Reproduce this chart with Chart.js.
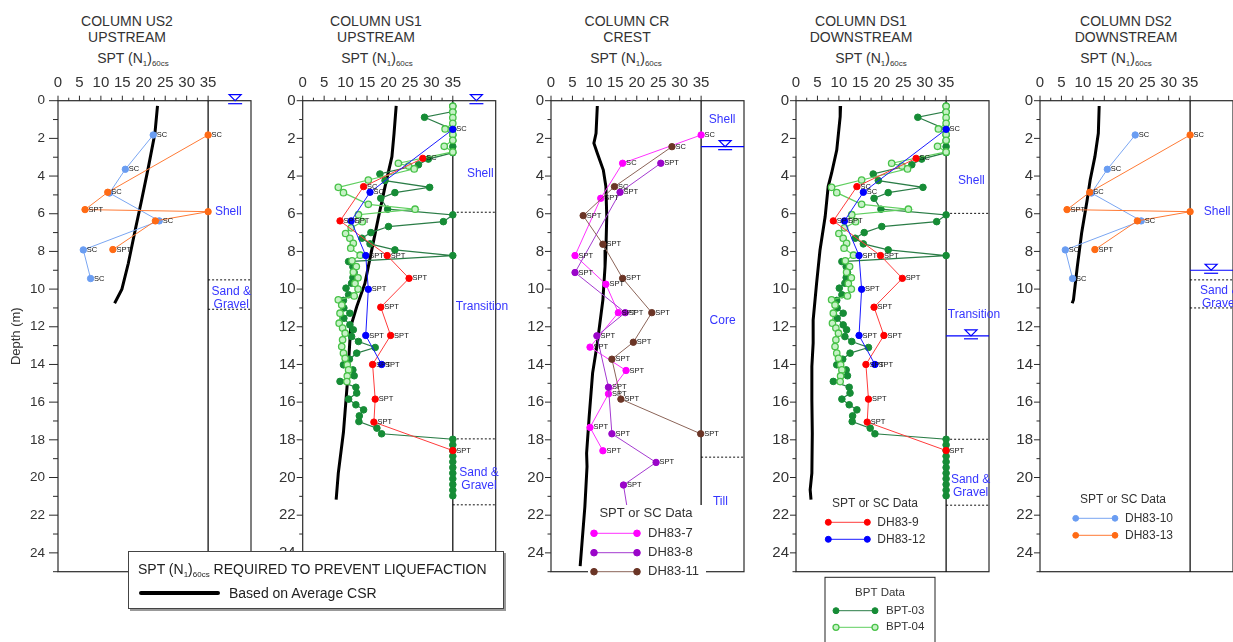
<!DOCTYPE html>
<html>
<head>
<meta charset="utf-8">
<script src="https://cdn.jsdelivr.net/npm/chart.js@4.4.1/dist/chart.umd.min.js"></script>
<style>
  body { margin:0; width:1233px; height:642px; overflow:hidden; background:#fff; position:relative;
         font-family:"Liberation Sans", Arial, sans-serif; color:#333; }
  canvas { position:absolute; top:0; }
  .ttl { position:absolute; top:12.5px; width:200px; text-align:center; font-size:14px; line-height:16px; }
  .spt { position:absolute; top:50px; width:200px; text-align:center; font-size:14px; line-height:16px; }
  sub { font-size:8px; vertical-align:-3px; line-height:0; }
  #csrKey { position:absolute; left:128px; top:551px; width:374px; height:56px; background:#fff;
            border:1px solid #444; box-shadow:2px 2px 0 #999; font-size:14px; color:#222; z-index:5; }
  #csrKey .t { position:absolute; left:9px; top:9px; white-space:nowrap; line-height:16px; }
  #csrKey .ln { position:absolute; left:10px; top:39px; width:81px; height:4px; background:#000; border-radius:2px; }
  #csrKey .r { position:absolute; left:100px; top:33px; white-space:nowrap; line-height:16px; }
</style>
</head>
<body>
<div class="ttl" style="left:27px">COLUMN US2<br>UPSTREAM</div>
<div class="spt" style="left:33px">SPT (N<sub>1</sub>)<sub>60cs</sub></div>
<div class="ttl" style="left:276px">COLUMN US1<br>UPSTREAM</div>
<div class="spt" style="left:277px">SPT (N<sub>1</sub>)<sub>60cs</sub></div>
<div class="ttl" style="left:527px">COLUMN CR<br>CREST</div>
<div class="spt" style="left:526px">SPT (N<sub>1</sub>)<sub>60cs</sub></div>
<div class="ttl" style="left:761px">COLUMN DS1<br>DOWNSTREAM</div>
<div class="spt" style="left:771px">SPT (N<sub>1</sub>)<sub>60cs</sub></div>
<div class="ttl" style="left:1026px">COLUMN DS2<br>DOWNSTREAM</div>
<div class="spt" style="left:1016px">SPT (N<sub>1</sub>)<sub>60cs</sub></div>

<canvas id="cUS2" width="262" height="642" style="left:0px"></canvas>
<canvas id="cUS1" width="262" height="642" style="left:252px"></canvas>
<canvas id="cCR"  width="250" height="642" style="left:500px"></canvas>
<canvas id="cDS1" width="258" height="642" style="left:746px"></canvas>
<canvas id="cDS2" width="250" height="642" style="left:990px"></canvas>

<div id="csrKey">
  <div class="t">SPT (N<sub>1</sub>)<sub>60cs</sub> REQUIRED TO PREVENT LIQUEFACTION</div>
  <div class="ln"></div>
  <div class="r">Based on Average CSR</div>
</div>

<script>
const FONT = '"Liberation Sans", Arial, sans-serif';

// axes
const depthTicks = [0, 2, 4, 6, 8, 10, 12, 14, 16, 18, 20, 22, 24];
const sptTicks = [0, 5, 10, 15, 20, 25, 30, 35];

// (N1)60cs required to prevent liquefaction, average CSR
const csrUS2N     = [23.2, 22.6, 21.1, 19.5, 18.0, 16.4, 14.9, 13.2];
const csrUS2Depth = [0.28, 1.73, 3.5, 5.27, 6.86, 8.63, 10.0, 10.75];
const csrUS1N     = [21.8, 21.3, 20.8, 19.2, 17.7, 16.1, 14.5, 12.6, 11.2, 10.4, 9.5, 8.3, 7.8];
const csrUS1Depth = [0.28, 1.73, 2.97, 4.56, 6.15, 7.92, 9.7, 10.93, 11.99, 15.0, 17.6, 19.77, 21.18];
const csrCRN      = [10.8, 10.5, 10.0, 10.8, 12.2, 12.8, 13.0, 12.8, 12.6, 12.1, 10.8, 9.7, 8.9, 8.3, 8.4, 7.9, 6.8];
const csrCRDepth  = [0.28, 1.73, 2.26, 2.79, 3.68, 4.56, 6.15, 7.92, 8.8, 10.57, 12.87, 14.46, 16.77, 18.71, 19.42, 21.54, 24.71];
const csrDS1N     = [10.4, 10.3, 9.5, 8.3, 7.5, 6.8, 5.6, 4.8, 4.0, 4.0, 3.7, 3.7, 3.8, 3.7, 3.3, 3.5];
const csrDS1Depth = [0.28, 0.85, 2.62, 3.85, 4.56, 6.15, 7.92, 9.7, 11.64, 12.87, 14.11, 15.88, 17.65, 19.77, 20.65, 21.18];
const csrDS2N     = [13.8, 13.6, 12.8, 11.7, 11.0, 9.7, 8.7, 7.8, 7.5];
const csrDS2Depth = [0.28, 1.73, 2.97, 4.21, 5.27, 7.04, 8.81, 10.57, 10.75];

// SPT or SC data
const dh10N     = [22.2, 15.7, 12.0, 23.6, 5.9, 7.6];
const dh10Depth = [1.82, 3.64, 4.9, 6.38, 7.92, 9.44];
const dh10Test  = ['SC', 'SC', '', 'SC', 'SC', 'SC'];
const dh13N     = [35, 11.6, 6.3, 35, 22.7, 12.8];
const dh13Depth = [1.82, 4.86, 5.78, 5.89, 6.38, 7.9];
const dh13Test  = ['SC', 'SC', 'SPT', '', '', 'SPT'];

const dh9N      = [28.0, 14.2, 8.7, 19.7, 24.8, 18.2, 20.5, 16.3, 16.9, 16.6, 35];
const dh9Depth  = [3.06, 4.56, 6.38, 8.22, 9.43, 10.96, 12.46, 14.0, 15.84, 17.06, 18.57];
const dh9Test   = ['SC', 'SC', 'SPT', 'SPT', 'SPT', 'SPT', 'SPT', 'SPT', 'SPT', 'SPT', 'SPT'];
const dh12N     = [35, 15.7, 11.3, 14.7, 15.3, 14.7, 18.4];
const dh12Depth = [1.52, 4.86, 6.38, 8.22, 10.01, 12.46, 14.0];
const dh12Test  = ['SC', 'SC', 'SPT', 'SPT', 'SPT', 'SPT', 'SPT'];

const dh7N      = [35, 16.7, 11.6, 5.6, 12.8, 15.7, 9.1, 17.5, 13.4, 9.1, 12.1];
const dh7Depth  = [1.82, 3.32, 5.18, 8.22, 9.74, 11.25, 13.08, 14.32, 15.56, 17.34, 18.58];
const dh7Test   = ['SC', 'SC', 'SPT', 'SPT', 'SPT', 'SPT', 'SPT', 'SPT', 'SPT', 'SPT', 'SPT'];
const dh8N      = [25.6, 16.1, 5.6, 17.3, 10.7, 13.4, 14.2, 24.5, 16.9, 18.6];
const dh8Depth  = [3.32, 4.86, 9.12, 11.25, 12.48, 15.21, 17.68, 19.2, 20.4, 22.8];
const dh8Test   = ['SPT', 'SPT', 'SPT', 'SPT', 'SPT', 'SPT', 'SPT', 'SPT', 'SPT', ''];
const dh11N     = [28.2, 14.8, 7.5, 12.1, 16.7, 23.5, 19.2, 14.2, 16.3, 34.9];
const dh11Depth = [2.44, 4.56, 6.1, 7.62, 9.43, 11.25, 12.82, 13.72, 15.84, 17.68];
const dh11Test  = ['SC', 'SC', 'SPT', 'SPT', 'SPT', 'SPT', 'SPT', 'SPT', 'SPT', 'SPT'];

// BPT data
const bpt03N = [35, 35, 28.4, 35, 35, 35, 35, 35, 29.3, 27.0, 18.0, 19.2, 29.6, 21.5, 18.2, 19.8,
  35, 32.8, 20.0, 15.9, 13.8, 15.7, 21.5, 35, 10.7, 11.7, 12.0, 11.7, 11.4, 10.1, 10.7, 9.5,
  9.6, 11.0, 9.6, 11.0, 11.8, 11.4, 13.0, 16.9, 12.6, 10.9, 9.5, 11.7, 12.0, 8.7, 12.4, 12.6,
  10.7, 12.4, 14.2, 13.2, 13.1, 17.3, 18.4, 35, 35, 35, 35, 35, 35, 35, 35, 35, 35, 35];
const bpt03Depth = [0.28, 0.58, 0.88, 1.52, 1.82, 2.12, 2.44, 2.76, 3.1, 3.4, 3.89, 4.24, 4.6, 4.88, 5.18, 5.76,
  6.06, 6.42, 6.68, 7.0, 7.3, 7.6, 7.92, 8.22, 8.54, 8.81, 9.12, 9.39, 9.69, 9.95, 10.3, 10.6,
  11.0, 11.28, 11.55, 11.9, 12.16, 12.52, 12.78, 13.1, 13.4, 13.72, 14.02, 14.29, 14.6, 14.9, 15.21, 15.52,
  15.84, 16.14, 16.41, 16.73, 17.03, 17.38, 17.68, 17.97, 18.27, 18.57, 18.87, 19.17, 19.47, 19.77, 20.07, 20.37, 20.67, 20.97];
const bpt04N = [35, 35, 35, 35, 33.2, 35, 35, 33.0, 35, 22.3, 24.7, 26.0, 15.3, 8.3, 9.5, 15.3, 26.2,
  13.0, 13.9, 11.3, 10.0, 11.0, 11.8, 11.2, 13.4, 11.5, 12.5, 11.8, 12.9, 12.2, 12.9, 12.0, 8.3,
  9.1, 8.7, 8.5, 9.3, 9.9, 9.3, 9.1, 9.5, 9.9, 10.4, 10.7, 10.4, 10.3];
const bpt04Depth = [0.3, 0.6, 0.9, 1.2, 1.5, 1.8, 2.1, 2.42, 2.72, 3.32, 3.47, 3.62, 4.21, 4.6, 4.88, 5.5, 5.76,
  6.05, 6.42, 6.75, 7.05, 7.3, 7.57, 7.83, 8.2, 8.5, 8.8, 9.1, 9.4, 9.7, 10.0, 10.36, 10.57,
  10.84, 11.28, 11.81, 12.07, 12.34, 12.69, 13.05, 13.4, 13.67, 14.02, 14.29, 14.61, 14.91];

const pts = (n, d) => n.map((v, i) => ({ x: v, y: d[i] }));

function hole(label, n, d, tags, color, lineColor) {
  return {
    label, data: pts(n, d), tags, showLine: true,
    borderColor: lineColor || color, borderWidth: 1,
    pointBackgroundColor: color, pointBorderColor: color, pointBorderWidth: 1,
    pointRadius: 3.2, pointHoverRadius: 3.2,
  };
}
const csrLine = (n, d) => ({
  label: 'Based on Average CSR', data: pts(n, d), showLine: true,
  borderColor: '#000', borderWidth: 3, pointRadius: 0, tension: 0,
});
const bpt03 = () => ({
  label: 'BPT-03', data: pts(bpt03N, bpt03Depth), showLine: true,
  borderColor: '#2b7d47', borderWidth: 1.2,
  pointBackgroundColor: '#168c36', pointBorderColor: '#168c36', pointBorderWidth: 1,
  pointRadius: 3.3, pointHoverRadius: 3.3,
});
const bpt04 = () => ({
  label: 'BPT-04', data: pts(bpt04N, bpt04Depth), showLine: true,
  borderColor: '#5fcf5f', borderWidth: 1.2,
  pointBackgroundColor: '#c6f2c6', pointBorderColor: '#48c248', pointBorderWidth: 1.3,
  pointRadius: 3.2, pointHoverRadius: 3.2,
});
const dh9  = () => hole('DH83-9',  dh9N,  dh9Depth,  dh9Test,  '#ff0000', '#ff3b3b');
const dh12 = () => hole('DH83-12', dh12N, dh12Depth, dh12Test, '#0000ff', '#1a1aff');
const dh10 = () => hole('DH83-10', dh10N, dh10Depth, dh10Test, '#6a9df2', '#7aa6f2');
const dh13 = () => hole('DH83-13', dh13N, dh13Depth, dh13Test, '#ff6a14', '#ff7a35');

const panels = [
  { id: 'US2', left: 0, x0: 58, yTitle: true, labSize: 13.5, labPad: 13, major: 9, minor: 5,
    bounds: [9.51, 11.07], wt: { d: 0, n: 41.3 },
    layers: [['Shell', 39.7, 5.9], ['Sand &', 40.4, 10.13], ['Gravel', 40.4, 10.84]],
    datasets: [dh13(), dh10(), csrLine(csrUS2N, csrUS2Depth)], keys: [] },
  { id: 'US1', left: 252, x0: 302.7, labSize: 15, labPad: 7, major: 6, minor: 3.5,
    bounds: [5.92, 17.95, 21.45], wt: { d: 0, n: 40.5 },
    layers: [['Shell', 41.4, 3.9], ['Transition', 41.8, 10.96], ['Sand &', 41.1, 19.73], ['Gravel', 41.1, 20.44]],
    datasets: [dh12(), dh9(), bpt04(), bpt03(), csrLine(csrUS1N, csrUS1Depth)], keys: [] },
  { id: 'CR', left: 500, x0: 551, labSize: 15, labPad: 7, major: 6, minor: 3.5,
    bounds: [18.92], wt: { d: 2.44, n: 40.6 },
    layers: [['Shell', 39.9, 0.99], ['Core', 40.0, 11.67], ['Till', 39.5, 21.27]],
    datasets: [
      hole('DH83-11', dh11N, dh11Depth, dh11Test, '#6b3526', '#8b6458'),
      hole('DH83-8', dh8N, dh8Depth, dh8Test, '#9a05c9', '#a43ad0'),
      hole('DH83-7', dh7N, dh7Depth, dh7Test, '#ff00ff', '#ff30ff'),
      csrLine(csrCRN, csrCRDepth)],
    keys: [{ bg: [588, 505, 118, 73], title: 'SPT or SC Data', size: 13, cx: 646, cy: 513, x1: 594, x2: 637, tx: 648, r: 3.3,
             rows: [['DH83-7', 533.3], ['DH83-8', 552.7], ['DH83-11', 571.7]] }] },
  { id: 'DS1', left: 746, x0: 796, labSize: 15, labPad: 7, major: 6, minor: 3.5,
    bounds: [5.98, 17.97, 21.47], wt: { d: 12.48, n: 40.8 },
    layers: [['Shell', 40.9, 4.26], ['Transition', 41.5, 11.37], ['Sand &', 40.7, 20.1], ['Gravel', 40.7, 20.8]],
    datasets: [dh12(), dh9(), bpt04(), bpt03(), csrLine(csrDS1N, csrDS1Depth)],
    keys: [{ title: 'SPT or SC Data', size: 12, cx: 875, cy: 504, x1: 828.3, x2: 867.3, tx: 877.3, r: 3,
             rows: [['DH83-9', 522.3], ['DH83-12', 539.3]] },
           { box: [825, 577.3, 110, 80], title: 'BPT Data', size: 11.5, cx: 880, cy: 592.7, x1: 836, x2: 875, tx: 886, r: 3,
             rows: [['BPT-03', 610.7], ['BPT-04', 627.3]] }] },
  { id: 'DS2', left: 990, x0: 1040, labSize: 15, labPad: 7, major: 6, minor: 3.5,
    bounds: [9.51, 11.0], wt: { d: 9.0, n: 39.9 },
    layers: [['Shell', 41.3, 5.89], ['Sand &', 41.9, 10.1], ['Gravel', 41.9, 10.8]],
    datasets: [dh13(), dh10(), csrLine(csrDS2N, csrDS2Depth)],
    keys: [{ title: 'SPT or SC Data', size: 12, cx: 1123, cy: 500, x1: 1075.7, x2: 1115, tx: 1125, r: 2.9,
             rows: [['DH83-10', 518.3], ['DH83-13', 535.3]] }] },
];

function seg(ctx, x1, y1, x2, y2) {
  ctx.beginPath(); ctx.moveTo(x1, y1); ctx.lineTo(x2, y2); ctx.stroke();
}

function drawKey(chart, k, ox) {
  const ctx = chart.ctx;
  if (k.bg) { ctx.fillStyle = '#fff'; ctx.fillRect(k.bg[0] - ox, k.bg[1], k.bg[2], k.bg[3]); }
  if (k.box) {
    ctx.fillStyle = '#fff'; ctx.fillRect(k.box[0] - ox, k.box[1], k.box[2], k.box[3]);
    ctx.strokeStyle = '#222'; ctx.lineWidth = 1; ctx.strokeRect(k.box[0] - ox, k.box[1], k.box[2], k.box[3]);
  }
  ctx.font = `${k.size}px ${FONT}`; ctx.textBaseline = 'middle';
  ctx.fillStyle = '#333'; ctx.textAlign = 'center';
  ctx.fillText(k.title, k.cx - ox, k.cy);
  k.rows.forEach(([label, y]) => {
    const ds = chart.data.datasets.find(d => d.label === label);
    ctx.strokeStyle = ds.borderColor; ctx.lineWidth = 1;
    seg(ctx, k.x1 - ox, y, k.x2 - ox, y);
    [k.x1, k.x2].forEach(px => {
      ctx.beginPath(); ctx.arc(px - ox, y, k.r, 0, Math.PI * 2);
      ctx.fillStyle = ds.pointBackgroundColor; ctx.fill();
      ctx.strokeStyle = ds.pointBorderColor; ctx.lineWidth = ds.pointBorderWidth; ctx.stroke();
    });
    ctx.fillStyle = '#333'; ctx.textAlign = 'left';
    ctx.fillText(label, k.tx - ox, y);
  });
}

function makeFrame(p) {
  return {
    id: 'frame' + p.id,
    beforeDatasetsDraw(chart) {
      const { ctx, chartArea: a, scales: { x, y } } = chart;
      const x35 = x.getPixelForValue(35);
      ctx.save();
      // layer boundaries
      ctx.strokeStyle = '#111'; ctx.lineWidth = 1; ctx.setLineDash([2, 2]);
      p.bounds.forEach(d => { const py = y.getPixelForValue(d); seg(ctx, x35, py, a.right, py); });
      ctx.setLineDash([]);
      // plot frame and the layer column
      ctx.strokeStyle = '#2a2a2a'; ctx.lineWidth = 1.2;
      ctx.strokeRect(a.left, a.top, a.right - a.left, a.bottom - a.top);
      ctx.strokeStyle = '#000';
      seg(ctx, x35, a.top, x35, a.bottom);
      // tick marks
      ctx.strokeStyle = '#2a2a2a'; ctx.lineWidth = 1;
      for (let v = 0; v <= 35; v += 2.5) {
        const px = x.getPixelForValue(v);
        seg(ctx, px, a.top, px, a.top - (v % 5 ? 3 : 5));
      }
      for (let d = 0; d <= 25; d++) {
        const py = y.getPixelForValue(d);
        seg(ctx, a.left, py, a.left - (d % 2 ? p.minor : p.major), py);
      }
      // water table
      const wy = y.getPixelForValue(p.wt.d), wx = x.getPixelForValue(p.wt.n);
      ctx.strokeStyle = '#0000ff'; ctx.lineWidth = 1.2;
      if (p.wt.d > 0) seg(ctx, x35, wy, a.right, wy);
      ctx.beginPath(); ctx.moveTo(wx - 6, wy - 6); ctx.lineTo(wx + 6, wy - 6); ctx.lineTo(wx, wy); ctx.closePath(); ctx.stroke();
      seg(ctx, wx - 7, wy + 3, wx + 7, wy + 3);
      // layer names
      ctx.fillStyle = '#3535ff'; ctx.font = `12px ${FONT}`;
      ctx.textAlign = 'center'; ctx.textBaseline = 'middle';
      p.layers.forEach(([t, n, d]) => ctx.fillText(t, x.getPixelForValue(n), y.getPixelForValue(d)));
      ctx.restore();
    },
    afterDatasetsDraw(chart) {
      const ctx = chart.ctx;
      ctx.save();
      ctx.font = `7.5px ${FONT}`; ctx.fillStyle = '#111';
      ctx.textAlign = 'left'; ctx.textBaseline = 'middle';
      chart.data.datasets.forEach((ds, i) => {
        if (!ds.tags) return;
        chart.getDatasetMeta(i).data.forEach((el, j) => {
          if (ds.tags[j]) ctx.fillText(ds.tags[j], el.x + 3.5, el.y);
        });
      });
      p.keys.forEach(k => drawKey(chart, k, p.left));
      ctx.restore();
    },
  };
}

const AXH = 30;
panels.forEach(p => {
  const canvas = document.getElementById('c' + p.id);
  const yw = p.x0 - p.left;
  new Chart(canvas, {
    type: 'scatter',
    data: { datasets: p.datasets },
    plugins: [makeFrame(p)],
    options: {
      responsive: false, animation: false, events: [],
      layout: { padding: { top: 100.7 - AXH, bottom: 642 - 571.7, left: 0, right: canvas.width - yw - 193 } },
      scales: {
        x: {
          type: 'linear', position: 'top', min: 0, max: 45,
          grid: { display: false, drawTicks: false }, border: { display: false },
          afterBuildTicks: s => { s.ticks = sptTicks.map(v => ({ value: v })); },
          afterFit: s => { s.height = AXH; },
          ticks: { font: { size: 15, family: FONT }, color: '#333', padding: 9, maxRotation: 0, autoSkip: false },
        },
        y: {
          type: 'linear', reverse: true, min: 0, max: 25,
          grid: { display: false, drawTicks: false }, border: { display: false },
          afterBuildTicks: s => { s.ticks = depthTicks.map(v => ({ value: v })); },
          afterFit: s => { s.width = yw; },
          ticks: { font: { size: p.labSize, family: FONT }, color: '#333', padding: p.labPad, autoSkip: false },
          title: { display: !!p.yTitle, text: 'Depth (m)', color: '#333', font: { size: 13, family: FONT }, padding: { top: 9, bottom: 0 } },
        },
      },
      plugins: { legend: { display: false }, tooltip: { enabled: false } },
    },
  });
});
</script>
</body>
</html>
